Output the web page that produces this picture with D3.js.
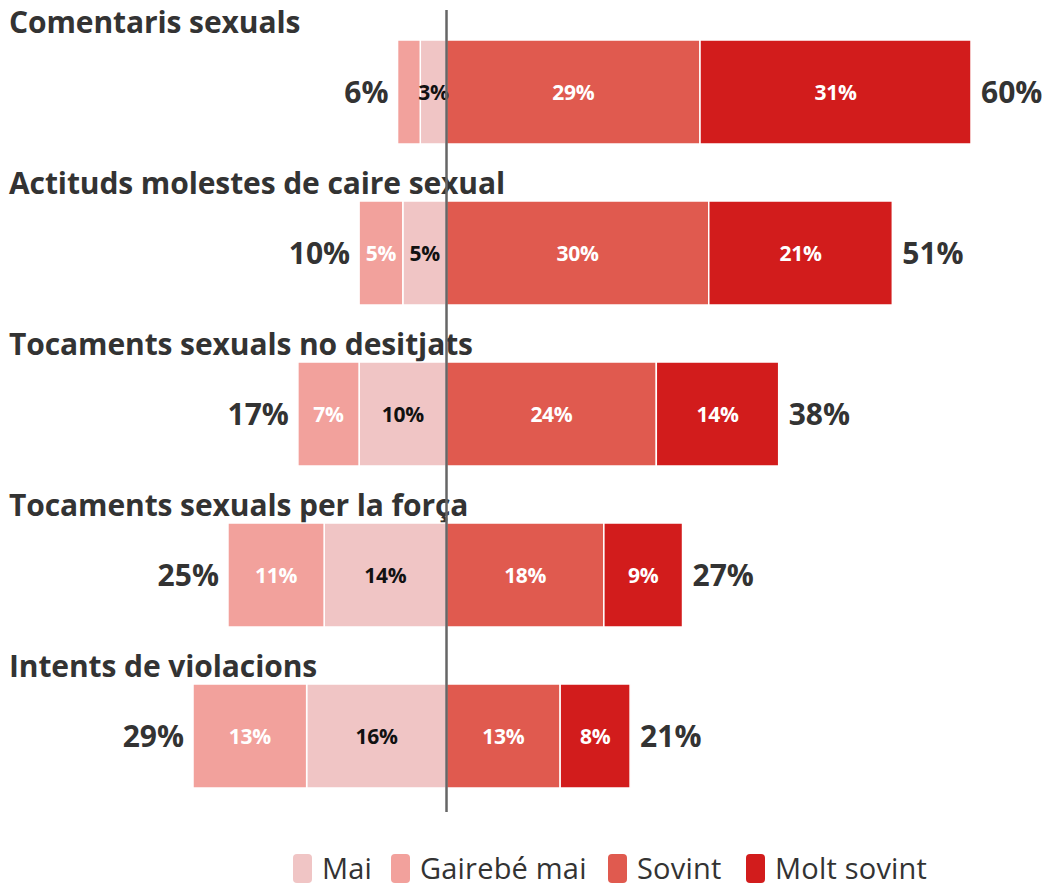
<!DOCTYPE html>
<html>
<head>
<meta charset="utf-8">
<script src="https://cdn.jsdelivr.net/npm/d3@7"></script>
<style>
  body { margin: 0; background: #fff; }
  svg { font-family: "Open Sans", Lato, sans-serif; }
</style>
</head>
<body>
<svg width="1051" height="888"></svg>
<script>
// categories + series (in % of responses)
var categories = ["Comentaris sexuals", "Actituds molestes de caire sexual", "Tocaments sexuals no desitjats",
                  "Tocaments sexuals per la força", "Intents de violacions"];
var seriesNames = ["Mai", "Gairebé mai", "Sovint", "Molt sovint"];
var mai        = [3, 5, 10, 14, 16];
var gairebeMai = [2.6, 5, 7, 11, 13];
var sovint     = [29, 30, 24, 18, 13];
var moltSovint = [31, 21, 14, 9, 8];
var colors = ["#f0c5c5", "#f2a19c", "#e05a4f", "#d21c1c"];
var labelColors = ["#111", "#fff", "#fff", "#fff"];

var svg = d3.select("svg");

var x = d3.scaleLinear().domain([-29, 60]).range([193, 971]);
var y = d3.scaleBand().domain(categories).range([0, 805]).paddingInner(0);
var barTop = 40, barH = 104;

// build segments: left side goes out from 0 (mai first, then gairebe mai)
var rows = categories.map(function(c, i) {
  var segs = [];
  segs.push({s: 0, x0: -mai[i], x1: 0, v: mai[i]});
  segs.push({s: 1, x0: -mai[i] - gairebeMai[i], x1: -mai[i], v: gairebeMai[i]});
  segs.push({s: 2, x0: 0, x1: sovint[i], v: sovint[i]});
  segs.push({s: 3, x0: sovint[i], x1: sovint[i] + moltSovint[i], v: moltSovint[i]});
  return {name: c, i: i, segs: segs,
          left: mai[i] + gairebeMai[i], right: sovint[i] + moltSovint[i]};
});

var g = svg.selectAll("g.row").data(rows).enter().append("g")
  .attr("class", "row")
  .attr("transform", function(d) { return "translate(0," + y(d.name) + ")"; });

g.append("text")
  .attr("x", 9).attr("y", 33)
  .attr("font-size", 30).attr("font-weight", 700).attr("fill", "#333")
  .attr("letter-spacing", -0.1)
  .text(function(d) { return d.name; });

g.selectAll("rect").data(function(d) { return d.segs; }).enter().append("rect")
  .attr("x", function(d) { return x(d.x0); })
  .attr("width", function(d) { return x(d.x1) - x(d.x0); })
  .attr("y", barTop).attr("height", barH)
  .attr("fill", function(d) { return colors[d.s]; })
  .attr("stroke", "#fff").attr("stroke-width", 1.5);

g.selectAll("text.seg").data(function(d) { return d.segs.filter(function(s) { return s.v >= 3; }); })
  .enter().append("text")
  .attr("class", "seg")
  .attr("x", function(d) { return (x(d.x0) + x(d.x1)) / 2; })
  .attr("y", barTop + barH / 2 + 8)
  .attr("text-anchor", "middle")
  .attr("font-size", 21).attr("font-weight", 700)
  .attr("letter-spacing", -0.3)
  .attr("fill", function(d) { return labelColors[d.s]; })
  .text(function(d) { return Math.round(d.v) + "%"; });

g.append("text")
  .attr("x", function(d) { return x(-d.left) - 9; })
  .attr("y", barTop + barH / 2 + 11)
  .attr("text-anchor", "end")
  .attr("font-size", 30).attr("font-weight", 700).attr("fill", "#333")
  .text(function(d) { return Math.round(d.left) + "%"; });

g.append("text")
  .attr("x", function(d) { return x(d.right) + 10; })
  .attr("y", barTop + barH / 2 + 11)
  .attr("font-size", 30).attr("font-weight", 700).attr("fill", "#333")
  .text(function(d) { return Math.round(d.right) + "%"; });

// centre line
svg.append("line")
  .attr("x1", x(0)).attr("x2", x(0))
  .attr("y1", 10).attr("y2", 812)
  .attr("stroke", "#666").attr("stroke-width", 2.5);

// legend
var legX = [293, 391, 608, 746];
var leg = svg.selectAll("g.leg").data(seriesNames).enter().append("g")
  .attr("class", "leg")
  .attr("transform", function(d, i) { return "translate(" + legX[i] + ",854)"; });
leg.append("rect")
  .attr("width", 19).attr("height", 29).attr("rx", 4)
  .attr("fill", function(d, i) { return colors[i]; });
leg.append("text")
  .attr("x", 29).attr("y", 25)
  .attr("font-size", 29).attr("fill", "#333")
  .attr("letter-spacing", 0.2)
  .text(function(d) { return d; });
</script>
</body>
</html>
